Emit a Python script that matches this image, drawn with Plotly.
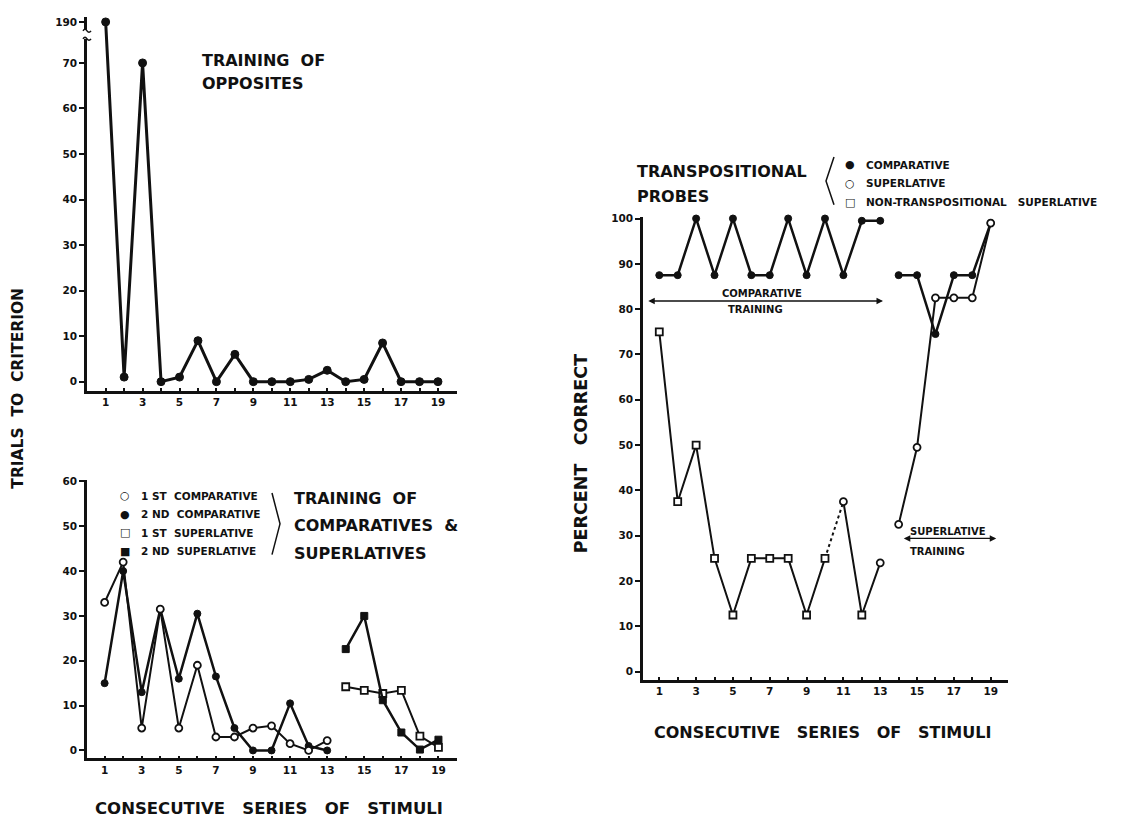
import plotly.graph_objects as go

W, H = 1124, 822

# ---------------- data ----------------
series_all = list(range(1, 20))
opposites_trials = [190, 1, 70, 0, 1, 9, 0, 6, 0, 0, 0, 0.5, 2.5, 0, 0.5, 8.5, 0, 0, 0]

comp_series = list(range(1, 14))
first_comparative = [33, 42, 5, 31.5, 5, 19, 3, 3, 5, 5.5, 1.5, 0, 2.2]
second_comparative = [15, 40, 13, 31.5, 16, 30.5, 16.5, 5, 0, 0, 10.5, 1, 0]
sup_series = list(range(14, 20))
first_superlative = [14.2, 13.4, 12.7, 13.4, 3.2, 0.7]
second_superlative = [22.6, 30, 11.2, 4, 0.2, 2.4]

probe_comparative_a = [87.5, 87.5, 100, 87.5, 100, 87.5, 87.5, 100, 87.5, 100, 87.5, 99.5, 99.5]  # series 1..13
probe_comparative_b = [87.5, 87.5, 74.5, 87.5, 87.5, 99]   # series 14..19
probe_superlative = [32.5, 49.5, 82.5, 82.5, 82.5, 99]      # series 14..19
nontrans_superlative = [75, 37.5, 50, 25, 12.5, 25, 25, 25, 12.5, 25, 37.5, 12.5, 24]  # series 1..13
nontrans_symbols = ["square"] * 10 + ["circle", "square", "circle"]

top_yticks = [0, 10, 20, 30, 40, 50, 60, 70, 190]
odd_labels = [str(i) if i % 2 == 1 else "" for i in series_all]

# axis break for the top panel: values above 70 are drawn at the broken segment
BREAK_LOW, BREAK_POS = 70, 79


def to_axis(v):
    return v if v <= BREAK_LOW else BREAK_POS


def px(x):
    return x / W


def py(y):
    return 1 - y / H


FONT = "DejaVu Sans"
BLACK = "#111111"


def filled(sym, size):
    return dict(symbol=sym, size=size, color=BLACK, line=dict(color=BLACK, width=1))


def hollow(sym, size):
    return dict(symbol=sym, size=size, color="white", line=dict(color=BLACK, width=1.8))


fig = go.Figure()

# ---- top-left: training of opposites ----
fig.add_trace(go.Scatter(x=series_all, y=[to_axis(v) for v in opposites_trials], mode="lines+markers",
                         line=dict(color=BLACK, width=3), marker=filled("circle", 8),
                         xaxis="x", yaxis="y"))

# ---- bottom-left ----
fig.add_trace(go.Scatter(x=comp_series, y=second_comparative, mode="lines+markers",
                         line=dict(color=BLACK, width=2.5), marker=filled("circle", 7),
                         xaxis="x2", yaxis="y2"))
fig.add_trace(go.Scatter(x=comp_series, y=first_comparative, mode="lines+markers",
                         line=dict(color=BLACK, width=2), marker=hollow("circle", 7),
                         xaxis="x2", yaxis="y2"))
fig.add_trace(go.Scatter(x=sup_series, y=first_superlative, mode="lines+markers",
                         line=dict(color=BLACK, width=2), marker=hollow("square", 7),
                         xaxis="x2", yaxis="y2"))
fig.add_trace(go.Scatter(x=sup_series, y=second_superlative, mode="lines+markers",
                         line=dict(color=BLACK, width=2.5), marker=filled("square", 7),
                         xaxis="x2", yaxis="y2"))

# ---- right panel ----
fig.add_trace(go.Scatter(x=comp_series, y=probe_comparative_a, mode="lines+markers",
                         line=dict(color=BLACK, width=2.5), marker=filled("circle", 7),
                         xaxis="x3", yaxis="y3"))
fig.add_trace(go.Scatter(x=sup_series, y=probe_comparative_b, mode="lines+markers",
                         line=dict(color=BLACK, width=2.5), marker=filled("circle", 7),
                         xaxis="x3", yaxis="y3"))
fig.add_trace(go.Scatter(x=sup_series, y=probe_superlative, mode="lines+markers",
                         line=dict(color=BLACK, width=2), marker=hollow("circle", 7),
                         xaxis="x3", yaxis="y3"))
# non-transpositional: solid 1..10, dotted 10..11, solid 11..13
fig.add_trace(go.Scatter(x=comp_series[9:11], y=nontrans_superlative[9:11], mode="lines",
                         line=dict(color=BLACK, width=2, dash="dot"),
                         xaxis="x3", yaxis="y3"))
fig.add_trace(go.Scatter(x=comp_series[:10], y=nontrans_superlative[:10], mode="lines",
                         line=dict(color=BLACK, width=2), xaxis="x3", yaxis="y3"))
fig.add_trace(go.Scatter(x=comp_series[10:], y=nontrans_superlative[10:], mode="lines",
                         line=dict(color=BLACK, width=2), xaxis="x3", yaxis="y3"))
fig.add_trace(go.Scatter(x=comp_series, y=nontrans_superlative, mode="markers",
                         marker=dict(symbol=nontrans_symbols, size=7, color="white",
                                     line=dict(color=BLACK, width=1.8)),
                         xaxis="x3", yaxis="y3"))
fig.update_traces(cliponaxis=False)

tickfont = dict(family=FONT, size=10.5, color=BLACK, weight="bold")


def xaxis_cfg(domain, rng, anchor):
    return dict(domain=domain, range=rng, anchor=anchor, showline=True, linewidth=2.5,
                linecolor=BLACK, ticks="inside", ticklen=3, tickwidth=1.5, tickcolor=BLACK,
                tickmode="array", tickvals=series_all, ticktext=odd_labels,
                showgrid=False, zeroline=False, tickfont=tickfont)


def yaxis_cfg(domain, rng, anchor, vals, texts):
    return dict(domain=domain, range=rng, anchor=anchor, showline=True, linewidth=2.5,
                linecolor=BLACK, ticks="outside", ticklen=5, tickwidth=2, tickcolor=BLACK,
                tickmode="array", tickvals=vals, ticktext=texts,
                showgrid=False, zeroline=False, tickfont=tickfont)


fig.update_layout(
    width=W, height=H, margin=dict(l=0, r=0, t=0, b=0),
    paper_bgcolor="white", plot_bgcolor="white", showlegend=False,
    xaxis=xaxis_cfg([px(87), px(457)], [-0.01, 20.03], "y"),
    yaxis=yaxis_cfg([py(388), py(12)], [-1.97, 80.1], "x",
                    [to_axis(v) for v in top_yticks], [str(v) for v in top_yticks]),
    xaxis2=xaxis_cfg([px(87), px(457)], [0.05, 20.0], "y2"),
    yaxis2=yaxis_cfg([py(758), py(478)], [-1.77, 60.29], "x2",
                     list(range(0, 61, 10)), [str(v) for v in range(0, 61, 10)]),
    xaxis3=xaxis_cfg([px(643), px(1008)], [0.115, 19.94], "y3"),
    yaxis3=yaxis_cfg([py(679), py(213)], [-1.82, 100.4], "x3",
                     list(range(0, 101, 10)), [str(v) for v in range(0, 101, 10)]),
)

shapes = []
# axis break on the top-left y axis
shapes.append(dict(type="rect", xref="paper", yref="paper", x0=px(82), x1=px(92),
                   y0=py(34), y1=py(25), fillcolor="white", line=dict(width=0), layer="above"))
for yy in (26, 34):
    shapes.append(dict(type="path", xref="paper", yref="paper",
                       path=f"M {px(83)},{py(yy)} Q {px(85)},{py(yy - 3)} {px(87)},{py(yy)} T {px(91)},{py(yy)}",
                       line=dict(color=BLACK, width=1.5), layer="above"))
# brackets
shapes.append(dict(type="path", xref="paper", yref="paper",
                   path=f"M {px(272)},{py(491)} L {px(280)},{py(522)} L {px(272)},{py(553)}",
                   line=dict(color=BLACK, width=1.5)))
shapes.append(dict(type="path", xref="paper", yref="paper",
                   path=f"M {px(834)},{py(153)} L {px(826)},{py(177)} L {px(834)},{py(201)}",
                   line=dict(color=BLACK, width=1.5)))

annotations = []


def txt(x, y, text, size, anchor="left", angle=0):
    annotations.append(dict(x=px(x), y=py(y), xref="paper", yref="paper", text=text,
                            showarrow=False, xanchor=anchor, yanchor="middle", textangle=angle,
                            font=dict(family=FONT, size=size, color=BLACK, weight="bold")))


# top-left title
txt(200, 56, "TRAINING  OF", 16)
txt(200, 79, "OPPOSITES", 16)
# left y title
txt(18, 386, "TRIALS  TO  CRITERION", 15.5, anchor="center", angle=-90)
# bottom-left x title
txt(269, 808, "CONSECUTIVE   SERIES   OF   STIMULI", 16.5, anchor="center")
# bottom-left legend
legend_rows = [("○", "1 ST  COMPARATIVE"), ("●", "2 ND  COMPARATIVE"),
               ("□", "1 ST  SUPERLATIVE"), ("■", "2 ND  SUPERLATIVE")]
for i, (g, t) in enumerate(legend_rows):
    yy = 494 + i * 18.5
    txt(125, yy, g, 11, anchor="center")
    txt(139, yy, t, 10.5)
txt(292, 497, "TRAINING  OF", 16)
txt(292, 524, "COMPARATIVES  &", 16)
txt(292, 552, "SUPERLATIVES", 16)

# right panel texts
txt(635, 168, "TRANSPOSITIONAL", 16)
txt(635, 193, "PROBES", 16)
right_legend = [("●", "COMPARATIVE"), ("○", "SUPERLATIVE"),
                ("□", "NON-TRANSPOSITIONAL   SUPERLATIVE")]
for i, (g, t) in enumerate(right_legend):
    yy = 160.5 + i * 19
    txt(850, yy, g, 11, anchor="center")
    txt(864, yy, t, 10.5)
txt(581, 452, "PERCENT   CORRECT", 17.5, anchor="center", angle=-90)
txt(823, 732, "CONSECUTIVE   SERIES   OF   STIMULI", 16, anchor="center")
txt(762, 290, "COMPARATIVE", 10, anchor="center")
txt(755, 306, "TRAINING", 10, anchor="center")
txt(948, 530, "SUPERLATIVE", 10, anchor="center")
txt(937, 550, "TRAINING", 10, anchor="center")

# double-headed training arrows (axis-referenced)
for (xa, xb, yv) in [(0.32, 13.15, 81.8), (14.2, 19.3, 29.4)]:
    annotations.append(dict(x=xb, y=yv, ax=xa, ay=yv, xref="x3", yref="y3", axref="x3", ayref="y3",
                            text="", showarrow=True, arrowhead=2, arrowside="end+start",
                            arrowsize=1, arrowwidth=1.3, arrowcolor=BLACK))

fig.update_layout(shapes=shapes, annotations=annotations)
fig.write_html("out.html", config={"displayModeBar": False},
               post_script="document.body.style.margin='0';document.body.style.padding='0';")
